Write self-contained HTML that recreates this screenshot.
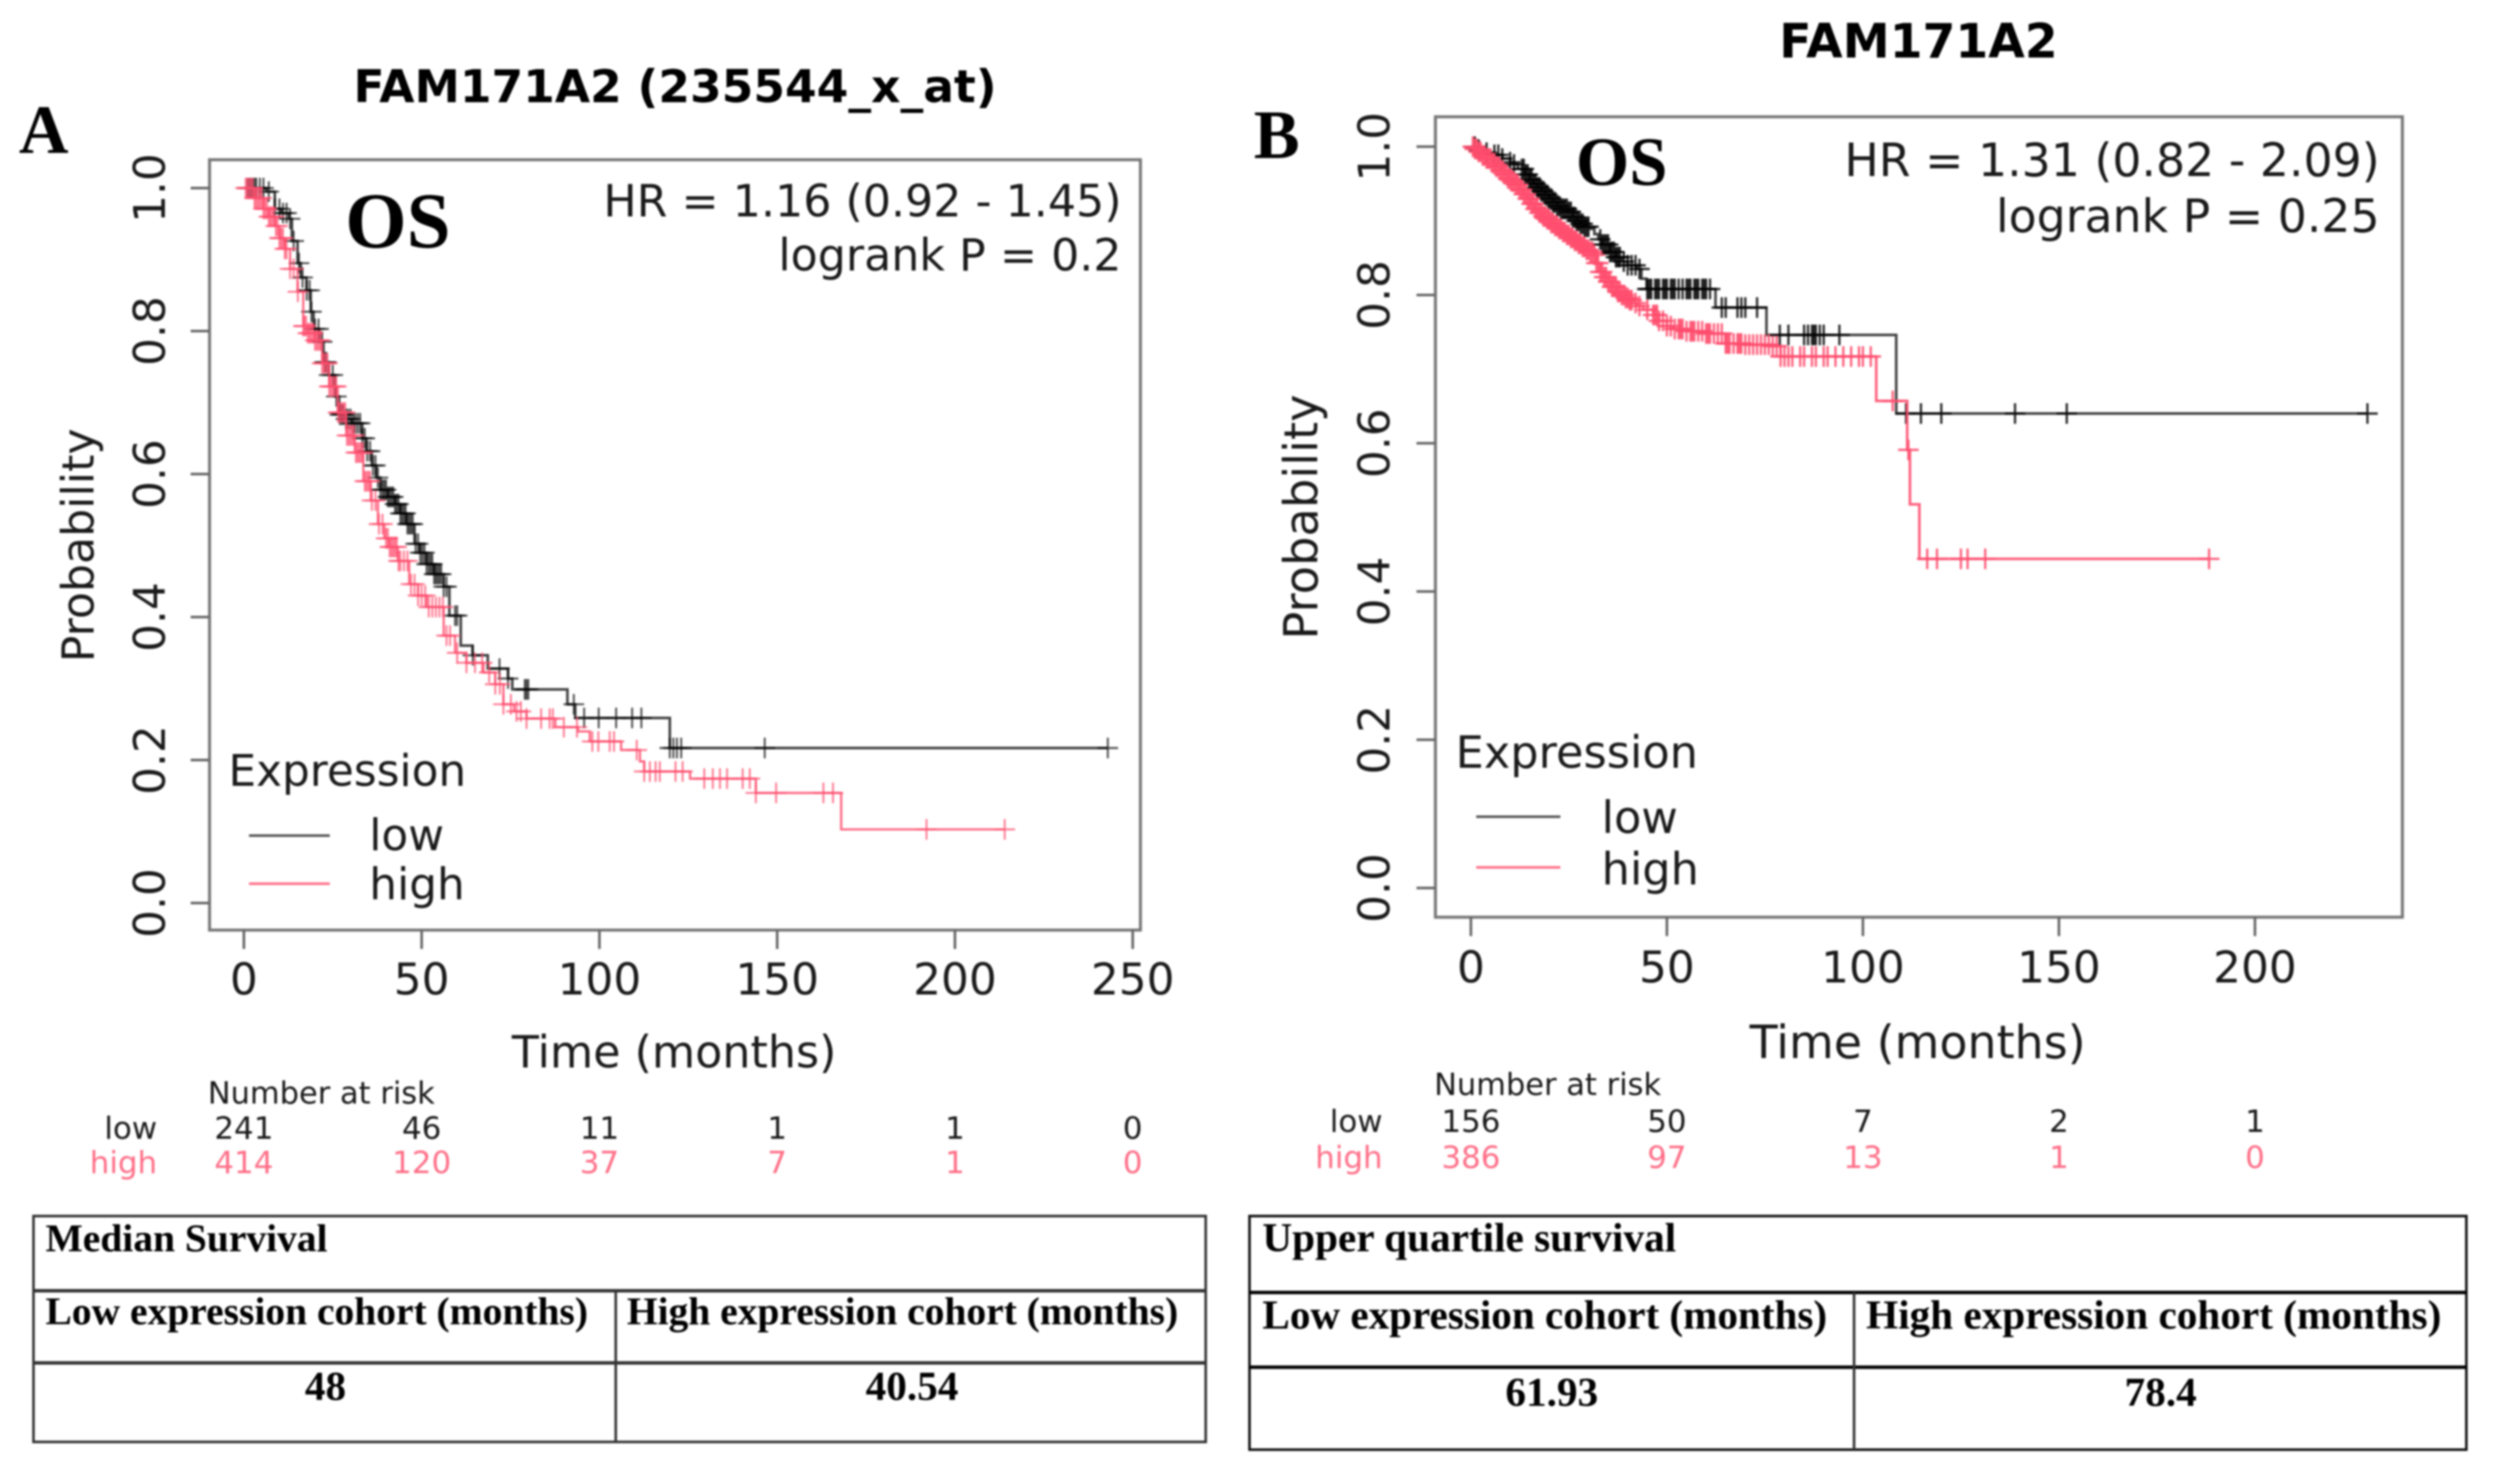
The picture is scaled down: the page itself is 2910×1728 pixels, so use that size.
<!DOCTYPE html>
<html lang="en">
<head>
<meta charset="utf-8">
<title>FAM171A2 survival curves</title>
<style>
html,body{margin:0;padding:0;background:#fff;width:2910px;height:1728px;overflow:hidden}
svg{display:block;filter:blur(1.1px)}
text{font-family:"DejaVu Sans",sans-serif;fill:#1a1a1a}
.serif{font-family:"Liberation Serif",serif;font-weight:700;fill:#000}
.title{font-weight:700;font-size:53px;fill:#000;text-anchor:middle}
.lab{font-size:51px}
.risk{font-size:36px}
.pink{fill:#ff6f88}
.frame{fill:none;stroke:#777;stroke-width:3.5}
.tl{stroke:#333;stroke-width:3;fill:none}
</style>
</head>
<body>
<svg id="fig" xmlns="http://www.w3.org/2000/svg" width="2910" height="1728" viewBox="0 0 2910 1728">
  <rect width="2910" height="1728" fill="#fff"/>

  <!-- Panel A -->
  <g id="panelA">
    <text class="serif" x="22" y="178" font-size="80">A</text>
    <text class="title" x="786" y="119">FAM171A2 (235544_x_at)</text>
    <rect class="frame" x="244" y="186" width="1084" height="897"/>
    <text class="serif" x="402" y="288" font-size="92">OS</text>
    <text class="lab" x="1306" y="252" text-anchor="end" style="font-size:51.6px">HR = 1.16 (0.92 - 1.45)</text>
    <text class="lab" x="1306" y="315" text-anchor="end" style="font-size:51.6px">logrank P = 0.2</text>
    <text class="lab" transform="translate(109,635) rotate(-90)" text-anchor="middle" style="font-size:51.5px">Probability</text>
    <text class="lab" x="785" y="1243" text-anchor="middle" style="font-size:51.7px">Time (months)</text>
    <text class="lab" x="266" y="915">Expression</text>
    <line x1="290" x2="384" y1="973" y2="973" stroke="#555" stroke-width="3"/>
    <line x1="290" x2="384" y1="1029" y2="1029" stroke="#ff7088" stroke-width="3"/>
    <text class="lab" x="430" y="990">low</text>
    <text class="lab" x="430" y="1047">high</text>
    <text class="risk" x="242" y="1285" style="font-size:35.5px">Number at risk</text>
    <text class="risk" x="183" y="1326" text-anchor="end">low</text>
    <text class="risk pink" x="183" y="1366" text-anchor="end">high</text>
  </g>

  <!-- Panel B -->
  <g id="panelB">
    <text class="serif" x="1460" y="184" font-size="80">B</text>
    <text class="title" x="2234" y="67" style="font-size:55px">FAM171A2</text>
    <rect class="frame" x="1671.5" y="136" width="1126" height="932"/>
    <text class="serif" x="1835" y="215" font-size="80">OS</text>
    <text class="lab" x="2771" y="205" text-anchor="end" style="font-size:53.3px">HR = 1.31 (0.82 - 2.09)</text>
    <text class="lab" x="2771" y="270" text-anchor="end" style="font-size:53.3px">logrank P = 0.25</text>
    <text class="lab" transform="translate(1534,602) rotate(-90)" text-anchor="middle" style="font-size:54px">Probability</text>
    <text class="lab" x="2233" y="1232" text-anchor="middle" style="font-size:53.5px">Time (months)</text>
    <text class="lab" x="1695" y="894" style="font-size:52px">Expression</text>
    <line x1="1719" x2="1817" y1="951" y2="951" stroke="#555" stroke-width="3"/>
    <line x1="1719" x2="1817" y1="1010" y2="1010" stroke="#ff7088" stroke-width="3"/>
    <text class="lab" x="1865" y="970" style="font-size:52px">low</text>
    <text class="lab" x="1865" y="1030" style="font-size:52px">high</text>
    <text class="risk" x="1670" y="1275" style="font-size:35.5px">Number at risk</text>
    <text class="risk" x="1610" y="1318" text-anchor="end">low</text>
    <text class="risk pink" x="1610" y="1360" text-anchor="end">high</text>
  </g>

  <!-- Table A -->
  <g>
    <rect class="tl" x="39" y="1416" width="1365" height="263"/>
    <line class="tl" x1="39" x2="1404" y1="1503" y2="1503" style="stroke-width:4"/>
    <line class="tl" x1="39" x2="1404" y1="1587" y2="1587" style="stroke-width:4"/>
    <line class="tl" x1="717" x2="717" y1="1503" y2="1679"/>
    <text class="serif" x="53" y="1457" font-size="46">Median Survival</text>
    <text class="serif" x="53" y="1542" font-size="46">Low expression cohort (months)</text>
    <text class="serif" x="730" y="1542" font-size="46">High expression cohort (months)</text>
    <text class="serif" x="379" y="1630" font-size="48" text-anchor="middle">48</text>
    <text class="serif" x="1062" y="1630" font-size="48" text-anchor="middle">40.54</text>
  </g>

  <!-- Table B -->
  <g>
    <rect class="tl" x="1455" y="1416" width="1417" height="272" style="stroke:#111"/>
    <line class="tl" x1="1455" x2="2872" y1="1505" y2="1505" style="stroke:#000;stroke-width:4"/>
    <line class="tl" x1="1455" x2="2872" y1="1592" y2="1592" style="stroke:#000;stroke-width:4"/>
    <line class="tl" x1="2159" x2="2159" y1="1505" y2="1688"/>
    <text class="serif" x="1470" y="1457" font-size="48">Upper quartile survival</text>
    <text class="serif" x="1470" y="1547" font-size="47.9">Low expression cohort (months)</text>
    <text class="serif" x="2173" y="1547" font-size="48">High expression cohort (months)</text>
    <text class="serif" x="1807" y="1637" font-size="48" text-anchor="middle">61.93</text>
    <text class="serif" x="2516" y="1637" font-size="48" text-anchor="middle">78.4</text>
  </g>
</svg>

<script>
// ---------- Panel A data ----------
const aXTicks = [0, 50, 100, 150, 200, 250];
const aYTicks = [0, 0.2, 0.4, 0.6, 0.8, 1];
const aRiskLow = [241, 46, 11, 1, 1, 0];
const aRiskHigh = [414, 120, 37, 7, 1, 0];
const aLowTimes = [0,6.3,8.7,10.5,12.7,13.5,15.1,16,17.6,18.8,19.6,21.2,22.4,23.9,25.6,26.8,28.5,30.4,33.3,34.5,36,37.2,38.4,40.5,42.5,44,45.7,48,49.5,51.4,53.5,56.2,57.8,61,64.3,68.6,74.3,75.5,91,93.2,119.8,243];
const aLowSurv = [1,.995,.971,.965,.957,.926,.895,.875,.857,.827,.803,.785,.7565,.7385,.7085,.683,.677,.671,.65,.632,.612,.595,.578,.568,.558,.545,.53,.5025,.49,.474,.46,.4425,.402,.36,.3465,.328,.314,.2988,.278,.2588,.2168,.2168];
const aLowCensor = [1,1.5,2,2.5,3,3.5,4.5,5.5,7,8.7,10,11,12,13,14,15.5,16.5,17.7,18.5,19,20,21,22,22.7,23.2,24,25,26,27,27.5,28,28.7,29.3,30,30.7,31.3,32,32.7,33.3,34,34.7,35.5,36.3,37,37.7,38.4,39,39.5,40,40.5,41,41.5,42,42.5,43,43.5,44,44.5,45,45.5,46,46.5,47,47.5,48.3,49,49.6,50.2,50.8,51.4,52,52.5,53,53.5,54,54.5,55,55.5,56.2,57,59.4,60,64.4,71.9,74.3,79,79.5,80,92.8,95.7,99.8,104.7,109.2,111.8,119.8,120.8,121.8,123,146.5,243];
const aHighTimes = [0,3,5.5,7,8.8,10,11.5,13,15.1,16.7,18,20,22,24,26.4,28.8,31.2,33.6,35.7,37.7,39.5,40.9,43.3,46.5,49,51.4,56.2,59.4,62.6,67.4,70.7,73,76,79.5,87.6,94,97.3,106.1,111.4,112.6,125.5,144,168,214];
const aHighSurv = [1,.986,.971,.96,.947,.93,.915,.887,.855,.807,.797,.787,.755,.7225,.686,.654,.63,.59,.563,.53,.51,.498,.4785,.446,.43,.414,.374,.35,.336,.3225,.306,.278,.268,.258,.246,.24,.226,.214,.198,.184,.174,.154,.103,.103];
const aHighCensor = [0.5,1,1.5,2,2.5,3,3.5,4,4.5,5,5.5,6,6.5,7,7.5,8,8.5,9,9.5,10,10.5,11,11.5,12,13,14,15.2,16.7,17,17.5,18,18.5,19,19.5,20,20.5,21,21.5,22,22.5,23,23.5,24,24.5,25,25.5,26,26.5,27,27.5,28,28.5,29,29.5,30,30.5,31,31.5,32,32.5,33,33.5,34,34.5,35,35.5,36,37,38,39,40,40.5,41,41.5,42,42.5,43,43.5,44,45,46,47,48,49,50,51,52,53,54,55,56,57,58,60,62.6,65,67,69,70.7,72,73,75.1,76.7,77.9,79.5,83.6,86,86.9,90,93.7,98,99.7,102.9,104.1,110.5,112.6,114.2,115.8,117,121.4,123.4,129.5,131.9,133.9,135.9,140.3,142.3,144,149.7,163,165.7,192,214];

// ---------- Panel B data ----------
const bXTicks = [0, 50, 100, 150, 200];
const bYTicks = [0, 0.2, 0.4, 0.6, 0.8, 1];
const bRiskLow = [156, 50, 7, 2, 1];
const bRiskHigh = [386, 97, 13, 1, 0];
const bLowTimes = [0,2,4,6,8,10,11,12,13.8,15,16,17,18,19,20,21,22,23,24.7,26,27,28,29,30.5,31.5,32.5,33.5,35.5,37,38.5,40,42.3,43.5,44.8,62.4,75.4,108.5,228.7];
const bLowSurv = [1,.996,.992,.989,.984,.979,.976,.97,.9625,.955,.95,.945,.94,.935,.93,.925,.92,.916,.912,.905,.9,.896,.892,.889,.882,.875,.868,.858,.851,.845,.84,.835,.822,.808,.783,.746,.64,.64];
const bLowCensor = [1,2,4,6,7,8,10,11,13,13.5,14,14.5,15,15.5,16,16.5,17,17.5,18,18.5,19,19.5,20,20.5,21,21.5,22,22.5,23,23.5,24,24.5,25,25.5,26,26.5,27,27.5,28,28.5,29,29.5,30,33,33.5,34,34.5,35,35.5,36,36.5,37,37.5,38,39,40,41,42,43,45,45.5,46,47,47.5,48,49,49.5,50,51,51.5,52,53,54,55,55.5,56,57,57.5,58,59,59.5,60,61,64,65,68,69,70,73,78.8,81,85,86,87,87.5,88,89,90,94,111,114.8,120,138.8,152,228.7];
const bHighTimes = [0,1,2,3,4,5.4,6.5,7.5,8.5,9.5,10.5,11.3,12.3,13.3,14.3,15.3,16.3,17.3,18.3,19.3,20.3,21.3,22.3,23.3,24.3,25.3,26.3,27.3,28.3,29.3,30.3,31.4,32,33,34,35,36,37.2,38.2,39.2,40.2,41.2,42.3,44,46.5,48,50,51.5,55,59.9,64.9,70,76.6,79,103.4,111.3,112,114.4,188.3];
const bHighSurv = [1,.997,.993,.988,.984,.978,.973,.968,.963,.957,.953,.949,.942,.936,.93,.923,.916,.911,.906,.902,.897,.893,.889,.885,.881,.877,.873,.869,.865,.861,.858,.854,.843,.831,.824,.818,.811,.804,.8,.796,.793,.789,.785,.78,.773,.765,.758,.754,.751,.748,.7345,.733,.731,.717,.657,.591,.5175,.444,.444];
const bHighCensor = [0.5,1,1.5,2,2.5,3,3.5,4,4.5,5,5.5,6,6.5,7,7.5,8,8.5,9,9.5,10,10.5,11,11.5,12,12.5,13,13.5,14,14.5,15,15.5,16,16.5,17,17.5,18,18.5,19,19.5,20,20.5,21,21.5,22,22.5,23,23.5,24,24.5,25,25.5,26,26.5,27,27.5,28,28.5,29,29.5,30,30.5,31,31.5,32,32.5,33,33.5,34,34.5,35,35.5,36,36.5,37,37.5,38,38.5,39,39.5,40,40.5,41,42,43,45,46.5,47,47.5,48,49,50,51,52,53,53.5,54,55,56,56.5,57,58,59,60,60.5,61,62,63,64,65,65.5,66,67,68,68.5,69,70,71,72,73,74,75,76,77,78,79,80,81,82,84,85,87,88,90,91,93,95,97,99,100,102,107.6,111.6,116.4,118.9,125,126.7,131.2,188.3];

const SVGNS = 'http://www.w3.org/2000/svg';
const LOW_COLOR = '#000';
const HIGH_COLOR = '#ff4d6d';

function survivalAt(times, surv, t) {
  let s = surv[0];
  for (let i = 0; i < times.length; i++) { if (times[i] <= t) s = surv[i]; }
  return s;
}

function drawCurve(g, x, y, times, surv, color, opacity, seriesName, width) {
  let d = 'M' + x(times[0]) + ' ' + y(surv[0]);
  for (let i = 1; i < times.length; i++) {
    d += 'H' + x(times[i]) + 'V' + y(surv[i]);
  }
  const el = document.createElementNS(SVGNS, 'path');
  el.setAttribute('d', d);
  el.setAttribute('fill', 'none');
  el.setAttribute('stroke', color);
  el.setAttribute('stroke-width', width);
  el.setAttribute('stroke-opacity', opacity);
  
  
  g.appendChild(el);
}

function drawCensors(g, x, y, times, surv, censor, color, opacity, seriesName, strokeW) {
  const h = 12;
  censor.forEach(function (t) {
    const cx = x(t), cy = y(survivalAt(times, surv, t));
    const el = document.createElementNS(SVGNS, 'path');
    el.setAttribute('d', 'M' + (cx - h) + ' ' + cy + 'H' + (cx + h) + 'M' + cx + ' ' + (cy - h) + 'V' + (cy + h));
    el.setAttribute('stroke', color);
    el.setAttribute('stroke-width', strokeW);
    el.setAttribute('stroke-opacity', opacity);
    el.setAttribute('fill', 'none');
    
    
    g.appendChild(el);
  });
}

function addText(g, str, px, py, cls, transform) {
  const el = document.createElementNS(SVGNS, 'text');
  el.textContent = str;
  el.setAttribute('x', transform ? 0 : px);
  el.setAttribute('y', transform ? 0 : py);
  el.setAttribute('text-anchor', 'middle');
  if (cls) el.setAttribute('class', cls);
  if (transform) el.setAttribute('transform', transform);
  g.appendChild(el);
  return el;
}

function drawPanel(g, name, x, y, frameLeft, frameBottom, xTickLabelY, yTickLabelX, xTicks, yTicks, riskLow, riskHigh, riskLowY, riskHighY) {
  yTicks.forEach(function (v) {
    const tick = document.createElementNS(SVGNS, 'line');
    tick.setAttribute('x1', frameLeft - 22);
    tick.setAttribute('x2', frameLeft);
    tick.setAttribute('y1', y(v));
    tick.setAttribute('y2', y(v));
    tick.setAttribute('stroke', '#666');
    tick.setAttribute('stroke-width', 3);
    
    
    g.appendChild(tick);
    const lab = addText(g, v.toFixed(1), 0, 0, 'lab', 'translate(' + yTickLabelX + ',' + y(v) + ') rotate(-90)');
    
    
  });
  xTicks.forEach(function (v, i) {
    const tick = document.createElementNS(SVGNS, 'line');
    tick.setAttribute('x1', x(v));
    tick.setAttribute('x2', x(v));
    tick.setAttribute('y1', frameBottom);
    tick.setAttribute('y2', frameBottom + 22);
    tick.setAttribute('stroke', '#666');
    tick.setAttribute('stroke-width', 3);
    
    
    g.appendChild(tick);
    const lab = addText(g, String(v), x(v), xTickLabelY, 'lab');
    
    
    const lo = addText(g, String(riskLow[i]), x(v), riskLowY, 'risk');
    
    
    const hi = addText(g, String(riskHigh[i]), x(v), riskHighY, 'risk pink');
    
    
  });
}

// Panel A axis scales
const xA = function (t) { return 284 + 4.14 * t; };
const yA = function (p) { return 1051.5 - 832.5 * p; };
const gA = document.getElementById('panelA');
drawPanel(gA, 'a', xA, yA, 244, 1083, 1158, 192, aXTicks, aYTicks, aRiskLow, aRiskHigh, 1326, 1366);
drawCurve(gA, xA, yA, aLowTimes, aLowSurv, LOW_COLOR, 0.75, 'low', 3);
drawCensors(gA, xA, yA, aLowTimes, aLowSurv, aLowCensor, LOW_COLOR, 0.7, 'low', 2.2);
drawCurve(gA, xA, yA, aHighTimes, aHighSurv, HIGH_COLOR, 0.85, 'high', 2.6);
drawCensors(gA, xA, yA, aHighTimes, aHighSurv, aHighCensor, HIGH_COLOR, 0.75, 'high', 2.2);

// Panel B axis scales
const xB = function (t) { return 1712.8 + 4.565 * t; };
const yB = function (p) { return 1034 - 863.2 * p; };
const gB = document.getElementById('panelB');
drawPanel(gB, 'b', xB, yB, 1671.5, 1068, 1144, 1618, bXTicks, bYTicks, bRiskLow, bRiskHigh, 1318, 1360);
drawCurve(gB, xB, yB, bLowTimes, bLowSurv, LOW_COLOR, 0.75, 'low', 3);
drawCensors(gB, xB, yB, bLowTimes, bLowSurv, bLowCensor, LOW_COLOR, 0.85, 'low', 2.6);
drawCurve(gB, xB, yB, bHighTimes, bHighSurv, HIGH_COLOR, 0.9, 'high', 3);
drawCensors(gB, xB, yB, bHighTimes, bHighSurv, bHighCensor, HIGH_COLOR, 0.9, 'high', 2.6);
</script>
</body>
</html>
